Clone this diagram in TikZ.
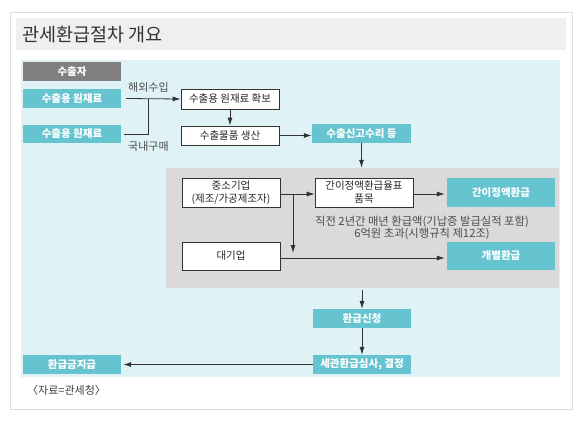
\documentclass[tikz,border=0pt]{standalone}
\usepackage{fontspec}
\setmainfont{Noto Sans CJK KR}
\usetikzlibrary{arrows.meta}
\definecolor{teal1}{RGB}{102,196,208}
\definecolor{bgblue}{RGB}{223,242,246}
\definecolor{panelgray}{RGB}{218,218,218}
\definecolor{expgray}{RGB}{128,128,128}
\definecolor{titlebar}{RGB}{239,239,239}
\definecolor{framegray}{RGB}{222,222,222}
\definecolor{linec}{RGB}{50,50,50}
\tikzset{
  box/.style={rectangle, inner sep=0pt, align=center, font=\fontsize{10.5}{12}\selectfont},
  tealbox/.style={box, fill=teal1, text=white, font=\fontsize{10.5}{12}\selectfont\bfseries},
  whitebox/.style={box, fill=white, draw=linec, line width=0.8pt, text=black!85},
  conn/.style={draw=linec, line width=0.8pt},
  arr/.style={conn, -{Latex[length=8pt,width=5pt]}},
  lbl/.style={font=\fontsize{11}{12}\selectfont, text=black!70, inner sep=0pt},
}
\begin{document}
\begin{tikzpicture}[x=1pt,y=-1pt]
\useasboundingbox (0,0) rectangle (580,420);
\fill[white] (0,0) rectangle (580,420);
% frame
\draw[framegray, line width=0.8pt] (10,12) rectangle (572,409);
\fill[titlebar] (16,18) rectangle (566,50);
\node[anchor=west, inner sep=0pt, font=\fontsize{18.5}{20}\selectfont, text=black!80] (title) at (22,35) {관세환급절차 개요};
% background areas
\fill[bgblue] (21,60) rectangle (560,377);
\node[rectangle, fill=panelgray, minimum width=393pt, minimum height=120pt, inner sep=0pt] (panel) at (362.5,228) {};
% nodes
\node[box, fill=expgray, text=white, font=\fontsize{10.5}{12}\selectfont\bfseries, minimum width=98pt, minimum height=19pt] (exp) at (72,71.5) {수출자};
\node[tealbox, minimum width=98pt, minimum height=19pt] (raw1) at (72,98.5) {수출용 원재료};
\node[tealbox, minimum width=98pt, minimum height=18pt] (raw2) at (72,134) {수출용 원재료};
\node[whitebox, minimum width=98pt, minimum height=20pt] (secure) at (230,99) {수출용 원재료 확보};
\node[whitebox, minimum width=98pt, minimum height=19pt] (prod) at (230,135.5) {수출물품 생산};
\node[tealbox, minimum width=99pt, minimum height=19pt] (decl) at (361.5,133.5) {수출신고수리 등};
\node[whitebox, minimum width=98pt, minimum height=29pt, font=\fontsize{10.5}{13}\selectfont] (sme) at (231,192.5) {중소기업\\(제조/가공제조자)};
\node[whitebox, minimum width=98pt, minimum height=29pt, font=\fontsize{10.5}{13}\selectfont] (simple) at (364,192.5) {간이정액환급율표\\품목};
\node[tealbox, minimum width=108pt, minimum height=29pt] (simpleR) at (501,192.5) {간이정액환급};
\node[whitebox, minimum width=98pt, minimum height=28pt] (large) at (231,256) {대기업};
\node[tealbox, minimum width=108pt, minimum height=28pt] (indiv) at (501,256) {개별환급};
\node[tealbox, minimum width=98pt, minimum height=19pt] (apply) at (362,318.5) {환급신청};
\node[tealbox, minimum width=98pt, minimum height=19pt] (review) at (362,364.5) {세관환급심사, 결정};
\node[tealbox, minimum width=98pt, minimum height=19pt] (pay) at (72,364.5) {환급금지급};
% labels
\node[lbl, anchor=west] (imp) at (128,87.5) {해외수입};
\node[lbl, anchor=west] (dom) at (128,146) {국내구매};
\node[lbl, align=center, font=\fontsize{11.3}{12}\selectfont] (note) at (422,227.5) {직전 2년간 매년 환급액(기납증 발급실적 포함)\\6억원 초과(시행규칙 제12조)};
\node[lbl, anchor=west, text=black!75] (src) at (27,390) {〈자료=관세청〉};
% connectors
\coordinate (j) at (148,98.5);
\draw[arr] ([xshift=5pt]raw1.east) -- (secure.west);
\draw[conn] ([xshift=3pt]raw2.east) -| (j);
\draw[arr] (secure.south) -- (prod.north);
\draw[arr] (prod.east) -- (decl.west |- prod.east);
\draw[arr] (decl.south) -- (decl.south |- panel.north);
\coordinate (split) at (293,194);
\draw[arr] (sme.east |- split) -- (simple.west |- split);
\draw[arr] (split) -- (293,253);
\draw[arr] (simple.east |- split) -- ([xshift=-2pt]simpleR.west |- split);
\coordinate (lg) at (280,258);
\draw[arr] (lg) -- ([xshift=-2pt]indiv.west |- lg);
\draw[arr] (apply.north |- panel.south) ++(0,2) -- (apply.north);
\draw[arr] (apply.south) -- (review.north);
\draw[arr] (review.west) -- ([xshift=2pt]pay.east);
\end{tikzpicture}
\end{document}
